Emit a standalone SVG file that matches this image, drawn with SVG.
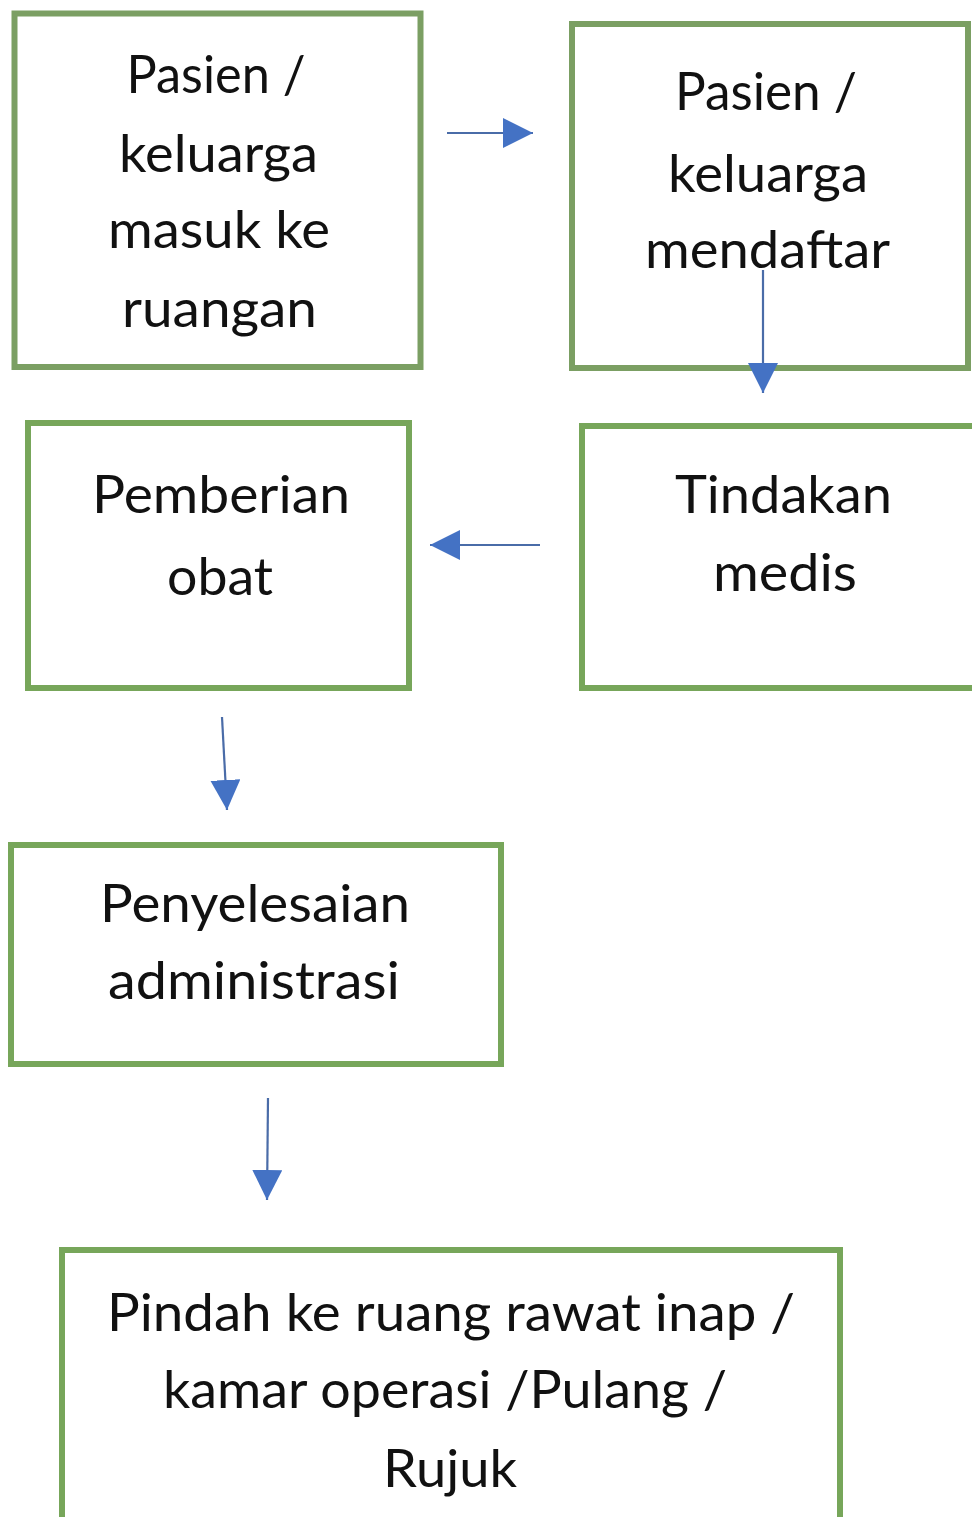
<svg xmlns="http://www.w3.org/2000/svg" width="972" height="1517" viewBox="0 0 972 1517">
<defs>
<style>
.box{fill:#ffffff;stroke:#77a65a;stroke-width:6}
.boxg{fill:#ffffff;stroke:#7b9f63;stroke-width:6}
.t{font-family:Lato,"Open Sans","Liberation Sans",sans-serif;font-size:52px;fill:#111111;text-anchor:middle}
.c{fill:none;stroke:#4a6ca8;stroke-width:2.2}
</style>
<marker id="ah" markerUnits="userSpaceOnUse" markerWidth="30" markerHeight="30" refX="30" refY="15" orient="auto" viewBox="0 0 30 30">
<path d="M0,0 L30,15 L0,30 Z" fill="#4472c4"/>
</marker>
</defs>
<rect width="972" height="1517" fill="#ffffff"/>
<g id="node-masuk">
<rect class="boxg" x="14.5" y="13.5" width="406" height="353.5"/>
<text class="t" x="216" y="93" textLength="179" lengthAdjust="spacingAndGlyphs">Pasien /</text>
<text class="t" x="218.5" y="172" textLength="199" lengthAdjust="spacingAndGlyphs">keluarga</text>
<text class="t" x="219" y="248" textLength="222" lengthAdjust="spacingAndGlyphs">masuk ke</text>
<text class="t" x="219.5" y="327" textLength="195" lengthAdjust="spacingAndGlyphs">ruangan</text>
</g>
<g id="node-mendaftar">
<rect class="boxg" x="572" y="24" width="396" height="344"/>
<text class="t" x="766" y="110" textLength="182" lengthAdjust="spacingAndGlyphs">Pasien /</text>
<text class="t" x="768" y="192" textLength="200" lengthAdjust="spacingAndGlyphs">keluarga</text>
<text class="t" x="767.5" y="268" textLength="245" lengthAdjust="spacingAndGlyphs">mendaftar</text>
</g>
<g id="node-tindakan">
<rect class="box" x="582" y="426" width="420" height="262"/>
<text class="t" x="783.5" y="513" textLength="217" lengthAdjust="spacingAndGlyphs">Tindakan</text>
<text class="t" x="785" y="591" textLength="144" lengthAdjust="spacingAndGlyphs">medis</text>
</g>
<g id="node-obat">
<rect class="box" x="28" y="423" width="381" height="265"/>
<text class="t" x="221" y="513" textLength="258" lengthAdjust="spacingAndGlyphs">Pemberian</text>
<text class="t" x="220" y="595" textLength="106" lengthAdjust="spacingAndGlyphs">obat</text>
</g>
<g id="node-admin">
<rect class="box" x="11" y="845" width="490" height="219"/>
<text class="t" x="255" y="922" textLength="310" lengthAdjust="spacingAndGlyphs">Penyelesaian</text>
<text class="t" x="254" y="999" textLength="292" lengthAdjust="spacingAndGlyphs">administrasi</text>
</g>
<g id="node-pindah">
<rect class="box" x="62" y="1250" width="778" height="300"/>
<text class="t" x="451" y="1331" textLength="688" lengthAdjust="spacingAndGlyphs">Pindah ke ruang rawat inap /</text>
<text class="t" x="445" y="1408" textLength="564" lengthAdjust="spacingAndGlyphs">kamar operasi /Pulang /</text>
<text class="t" x="450" y="1487" textLength="134" lengthAdjust="spacingAndGlyphs">Rujuk</text>
</g>
<g id="connectors">
<line class="c" x1="447" y1="133" x2="533" y2="133" marker-end="url(#ah)"/>
<line class="c" x1="763" y1="270" x2="763" y2="393" marker-end="url(#ah)"/>
<line class="c" x1="540" y1="545" x2="430" y2="545" marker-end="url(#ah)"/>
<line class="c" x1="222" y1="717" x2="227" y2="810" marker-end="url(#ah)"/>
<line class="c" x1="268" y1="1098" x2="267" y2="1200" marker-end="url(#ah)"/>
</g>
</svg>
